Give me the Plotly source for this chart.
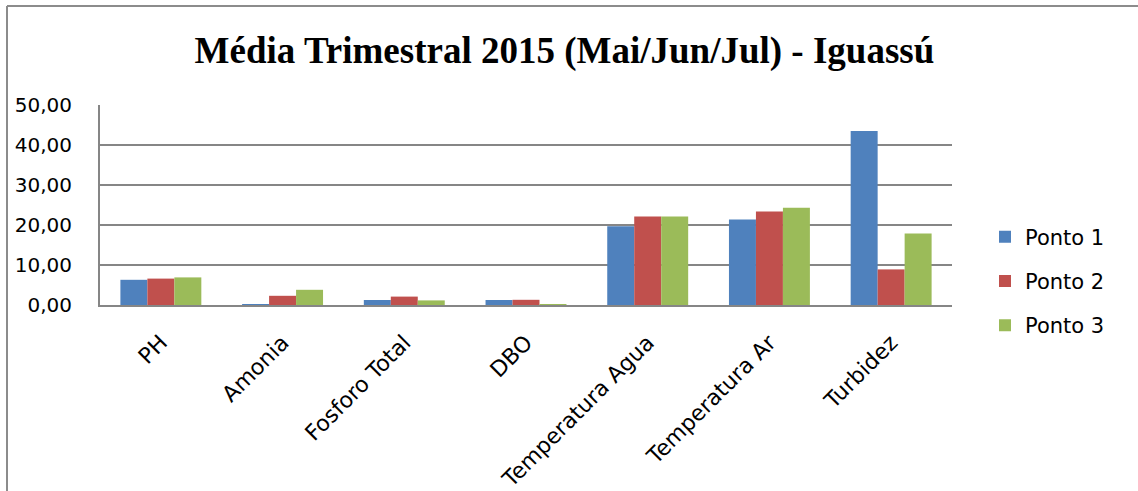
import plotly.graph_objects as go

categories = ["PH", "Amonia", "Fosforo Total", "DBO", "Temperatura Agua", "Temperatura Ar", "Turbidez"]
ponto1 = [6.3, 0.05, 1.25, 1.25, 19.7, 21.4, 43.5]
ponto2 = [6.6, 2.3, 2.1, 1.3, 22.15, 23.4, 8.9]
ponto3 = [6.9, 3.8, 1.15, 0.2, 22.1, 24.3, 17.9]
series_names = ["Ponto 1", "Ponto 2", "Ponto 3"]
colors = ["#4F81BD", "#C0504D", "#9BBB59"]
y_ticks = [0, 10, 20, 30, 40, 50]

W, H = 1138, 491
L, R, T, B = 100, 952, 105, 305  # plot area in px

fig = go.Figure()
for name, vals, col in zip(series_names, [ponto1, ponto2, ponto3], colors):
    fig.add_trace(go.Bar(x=categories, y=vals, name=name, marker_color=col,
                         marker_line_width=0, legendgroup=name))

def px(x):
    return (x - L) / (R - L)

def py(y):
    return (B - y) / (B - T)

fig.update_layout(
    width=W, height=H,
    margin=dict(l=L, r=W - R, t=T, b=H - B, autoexpand=False),
    paper_bgcolor="white", plot_bgcolor="white",
    separators=", ",
    barmode="group", bargap=0.335, bargroupgap=0,
    title=dict(text="<b>Média Trimestral 2015 (Mai/Jun/Jul) - Iguassú</b>",
               font=dict(family="Liberation Serif", size=37, color="black"),
               x=0.496, xanchor="center", y=1 - 50 / H, yanchor="middle", yref="container"),
    font=dict(family="DejaVu Sans", color="black"),
    legend=dict(x=px(985), y=py(281), xanchor="left", yanchor="middle",
                font=dict(size=21), tracegroupgap=14, itemwidth=30,
                bgcolor="rgba(0,0,0,0)"),
    showlegend=True,
    xaxis=dict(showgrid=False, showline=True, linecolor="#868686", linewidth=2,
               tickangle=-45, tickfont=dict(size=22), ticks="", automargin=False,
               ticklabelstandoff=14),
    yaxis=dict(range=[0, 50], tickvals=y_ticks, tickformat=".2f",
               showgrid=True, gridcolor="#868686", gridwidth=2,
               showline=True, linecolor="#868686", linewidth=2,
               zeroline=False, tickfont=dict(size=20), ticks="",
               ticklabelstandoff=22, automargin=False),
    shapes=[
        dict(type="line", xref="paper", yref="paper", x0=px(7), x1=px(7), y0=py(H + 5), y1=py(6),
             line=dict(color="#8c8c8c", width=2)),
        dict(type="line", xref="paper", yref="paper", x0=px(7), x1=px(W + 5), y0=py(6), y1=py(6),
             line=dict(color="#8c8c8c", width=2)),
    ],
)

fig.write_html("out.html", config={"displayModeBar": False},
               post_script="document.body.style.margin='0';document.body.style.overflow='hidden';")
